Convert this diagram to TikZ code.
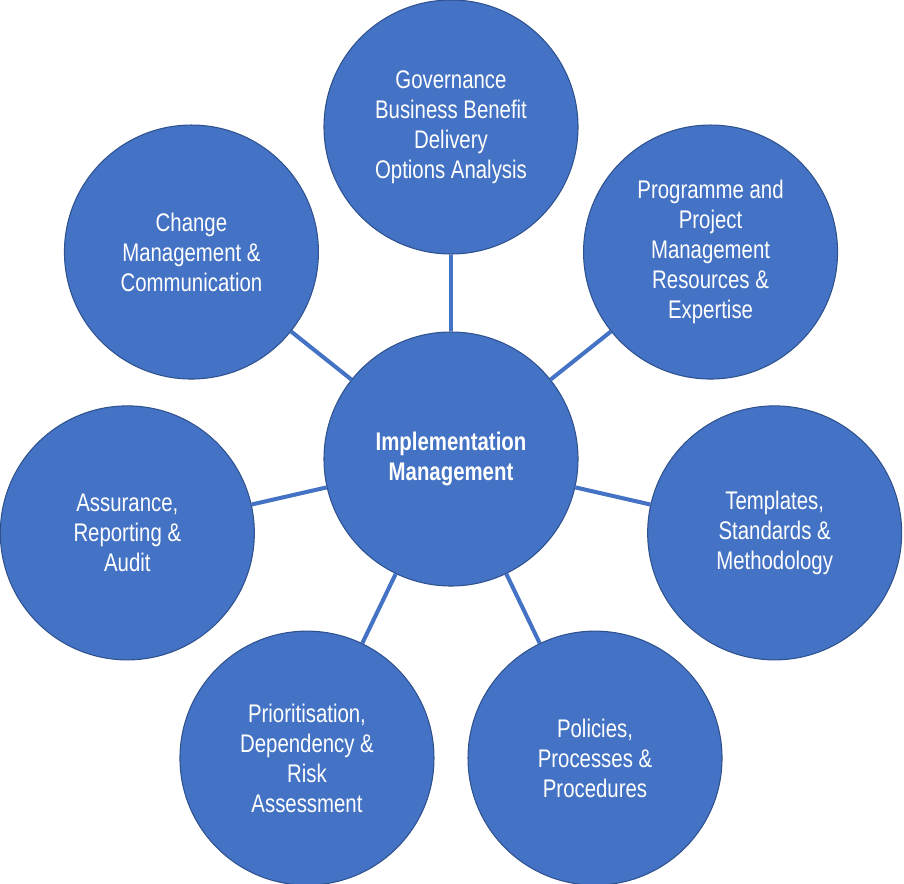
\documentclass[tikz,border=0pt]{standalone}
\usepackage{fontspec}
\setmainfont[FakeStretch=0.8]{Liberation Sans}
\usepackage{tikz}
\usetikzlibrary{positioning}
\definecolor{brand}{HTML}{4472C4}
\definecolor{rim}{HTML}{2F528F}

\begin{document}
\begin{tikzpicture}[
  every node/.style={font=\fontsize{14.5}{17.07}\selectfont},
  hubnode/.style={circle, draw=rim, line width=0.6pt, fill=brand, minimum size=5.08cm,
                  inner sep=0pt, align=center, text=white, font=\fontsize{14.5}{17.07}\selectfont\bfseries},
  petal/.style={circle, draw=rim, line width=0.6pt, fill=brand, minimum size=5.08cm,
                inner sep=0pt, align=center, text=white},
  spoke/.style={draw=brand, line width=2.3pt},
]
\useasboundingbox (-9.02,-8.48) rectangle (9.06,9.18);

% Hub
\node[hubnode] (hub) at (0,0) {Implementation\\Management};

% Petals — clockwise from the top
\node[petal] (gov)    at (90:6.64)      {Governance\\Business Benefit\\Delivery\\Options Analysis};
\node[petal] (ppm)    at (38.57:6.64)   {Programme and\\Project\\Management\\Resources \&\\Expertise};
\node[petal] (tmpl)   at (-12.86:6.64)  {Templates,\\Standards \&\\Methodology};
\node[petal] (policy) at (-64.29:6.64)  {Policies,\\Processes \&\\Procedures};
\node[petal] (prio)   at (-115.71:6.64) {Prioritisation,\\Dependency \&\\Risk\\Assessment};
\node[petal] (assur)  at (-167.14:6.64) {Assurance,\\Reporting \&\\Audit};
\node[petal] (change) at (141.43:6.64)  {Change\\Management \&\\Communication};

% Spokes
\foreach \p in {gov, ppm, tmpl, policy, prio, assur, change}
  \draw[spoke] (hub) -- (\p);

\end{tikzpicture}
\end{document}
